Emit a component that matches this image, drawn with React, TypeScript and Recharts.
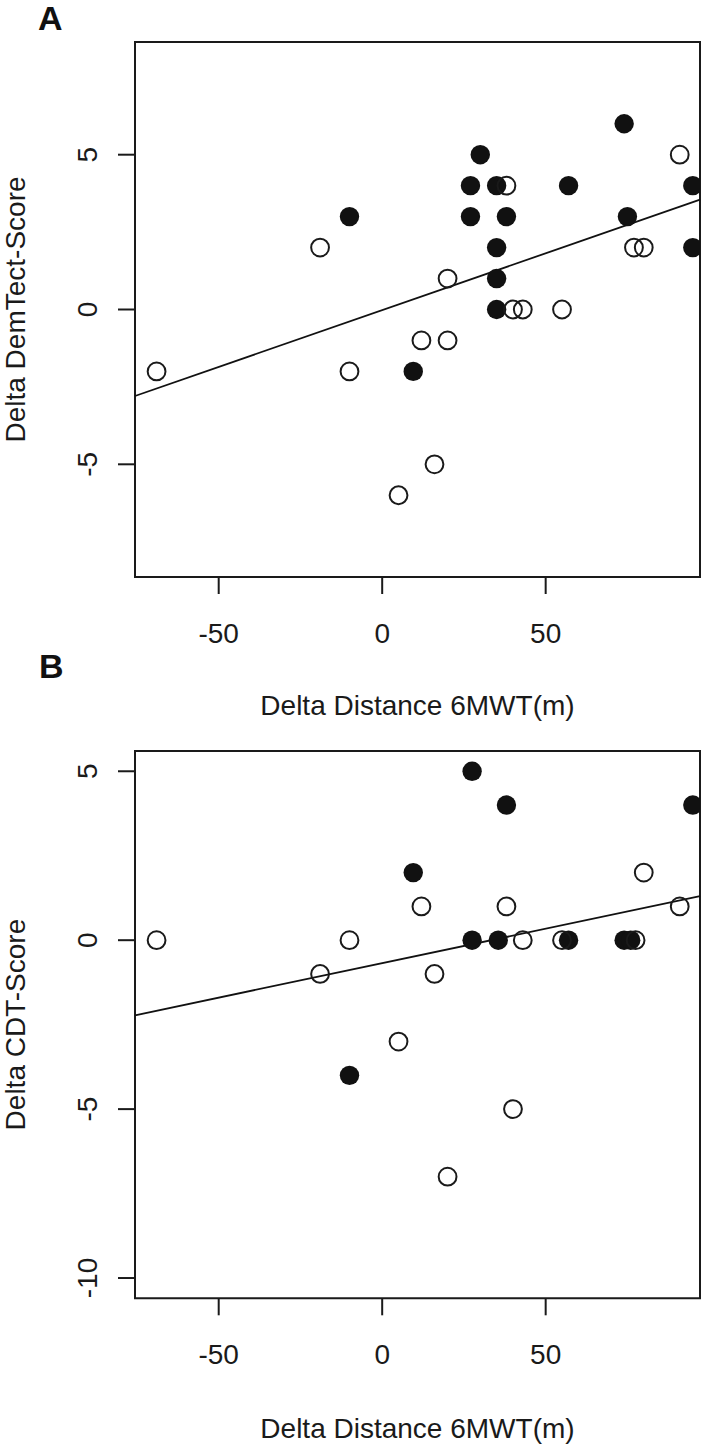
import {
  ScatterChart,
  Scatter,
  XAxis,
  YAxis,
  ReferenceLine,
  ReferenceArea,
} from "recharts";

const FONT = '"Liberation Sans", Arial, Helvetica, sans-serif';
const INK = "#1a1a1a";

// shared x axis (delta 6MWT distance, m)
const X_MIN = -75.6;
const X_MAX = 97.2;
const X_TICKS = [-50, 0, 50];

// panel A: delta DemTect score
const demTectFilled = [
  { d: -10, s: 3 }, { d: 9.5, s: -2 }, { d: 27, s: 4 }, { d: 27, s: 3 },
  { d: 30, s: 5 }, { d: 35, s: 4 }, { d: 35, s: 2 }, { d: 35, s: 1 },
  { d: 35, s: 0 }, { d: 38, s: 3 }, { d: 57, s: 4 }, { d: 74, s: 6 },
  { d: 75, s: 3 }, { d: 95, s: 4 }, { d: 95, s: 2 },
];
const demTectOpen = [
  { d: -69, s: -2 }, { d: -19, s: 2 }, { d: -10, s: -2 }, { d: 5, s: -6 },
  { d: 12, s: -1 }, { d: 16, s: -5 }, { d: 20, s: 1 }, { d: 20, s: -1 },
  { d: 38, s: 4 }, { d: 40, s: 0 }, { d: 43, s: 0 }, { d: 55, s: 0 },
  { d: 77, s: 2 }, { d: 80, s: 2 }, { d: 91, s: 5 },
];
const demTectFit = { a: -0.02, b: 0.0367 };
const demTectYDomain: [number, number] = [-8.64, 8.64];
const demTectYTicks = [-5, 0, 5];

// panel B: delta CDT score
const cdtFilled = [
  { d: 9.5, s: 2 }, { d: 27.5, s: 5 }, { d: 38, s: 4 }, { d: 95, s: 4 },
  { d: 27.5, s: 0 }, { d: 35.5, s: 0 }, { d: 57, s: 0 }, { d: 74, s: 0 },
  { d: 76, s: 0 }, { d: -10, s: -4 },
];
const cdtOpen = [
  { d: -69, s: 0 }, { d: -19, s: -1 }, { d: -10, s: 0 }, { d: 5, s: -3 },
  { d: 12, s: 1 }, { d: 16, s: -1 }, { d: 20, s: -7 }, { d: 38, s: 1 },
  { d: 40, s: -5 }, { d: 43, s: 0 }, { d: 55, s: 0 }, { d: 77.5, s: 0 },
  { d: 80, s: 2 }, { d: 91, s: 1 },
];
const cdtFit = { a: -0.68, b: 0.0204 };
const cdtYDomain: [number, number] = [-10.6, 5.6];
const cdtYTicks = [-10, -5, 0, 5];

function XTick({ x, y, payload }: any) {
  return (
    <text x={x} y={y + 49} textAnchor="middle" fontSize={28} fill={INK} fontFamily={FONT}>
      {payload.value}
    </text>
  );
}

function YTick({ x, y, payload }: any) {
  const bx = x - 21;
  return (
    <text
      x={bx}
      y={y}
      transform={`rotate(-90 ${bx} ${y})`}
      textAnchor="middle"
      fontSize={28}
      fill={INK}
      fontFamily={FONT}
    >
      {payload.value}
    </text>
  );
}

const filledDot = (p: any) => <circle cx={p.cx} cy={p.cy} r={9.7} fill="#111" />;
const openDot = (p: any) => (
  <circle cx={p.cx} cy={p.cy} r={8.9} fill="none" stroke={INK} strokeWidth={2} />
);

function Panel({
  top,
  marginTop,
  axisHeight,
  filled,
  open,
  fit,
  yDomain,
  yTicks,
}: {
  top: number;
  marginTop: number;
  axisHeight: number;
  filled: { d: number; s: number }[];
  open: { d: number; s: number }[];
  fit: { a: number; b: number };
  yDomain: [number, number];
  yTicks: number[];
}) {
  return (
    <div style={{ position: "absolute", left: 0, top }}>
      <ScatterChart
        width={703}
        height={724}
        margin={{ top: marginTop, right: 3, bottom: 0, left: 0 }}
      >
        <XAxis
          type="number"
          dataKey="d"
          domain={[X_MIN, X_MAX]}
          ticks={X_TICKS}
          allowDataOverflow
          axisLine={false}
          tickLine={{ stroke: INK, strokeWidth: 2 }}
          tickSize={17}
          tickMargin={0}
          height={axisHeight}
          tick={<XTick />}
        />
        <YAxis
          type="number"
          dataKey="s"
          domain={yDomain}
          ticks={yTicks}
          allowDataOverflow
          axisLine={false}
          tickLine={{ stroke: INK, strokeWidth: 2 }}
          tickSize={17}
          tickMargin={0}
          width={135}
          tick={<YTick />}
        />
        <ReferenceArea
          x1={X_MIN}
          x2={X_MAX}
          y1={yDomain[0]}
          y2={yDomain[1]}
          fill="none"
          stroke={INK}
          strokeWidth={2}
        />
        <ReferenceLine
          segment={[
            { x: X_MIN, y: fit.a + fit.b * X_MIN },
            { x: X_MAX, y: fit.a + fit.b * X_MAX },
          ]}
          stroke="#111"
          strokeWidth={1.8}
        />
        <Scatter data={filled} shape={filledDot} isAnimationActive={false} />
        <Scatter data={open} shape={openDot} isAnimationActive={false} />
      </ScatterChart>
    </div>
  );
}

export default function App() {
  return (
    <div
      style={{
        position: "absolute",
        left: 0,
        top: 0,
        width: 703,
        height: 1448,
        background: "#fff",
        fontFamily: FONT,
      }}
    >
      <Panel
        top={0}
        marginTop={42}
        axisHeight={147}
        filled={demTectFilled}
        open={demTectOpen}
        fit={demTectFit}
        yDomain={demTectYDomain}
        yTicks={demTectYTicks}
      />
      <Panel
        top={724}
        marginTop={27}
        axisHeight={149.7}
        filled={cdtFilled}
        open={cdtOpen}
        fit={cdtFit}
        yDomain={cdtYDomain}
        yTicks={cdtYTicks}
      />
      <svg
        width={703}
        height={1448}
        style={{ position: "absolute", left: 0, top: 0, pointerEvents: "none" }}
        fontFamily={FONT}
        fill={INK}
      >
        <text x={38} y={30} fontSize={34} fontWeight="bold" fill="#111">A</text>
        <text x={39} y={678} fontSize={34} fontWeight="bold" fill="#111">B</text>
        <text x={417.5} y={715} fontSize={28} textAnchor="middle">Delta Distance 6MWT(m)</text>
        <text x={417.5} y={1438} fontSize={28} textAnchor="middle">Delta Distance 6MWT(m)</text>
        <text x={25} y={309.5} fontSize={28} textAnchor="middle" transform="rotate(-90 25 309.5)">
          Delta DemTect-Score
        </text>
        <text x={25} y={1024.6} fontSize={28} textAnchor="middle" transform="rotate(-90 25 1024.6)">
          Delta CDT-Score
        </text>
      </svg>
    </div>
  );
}
